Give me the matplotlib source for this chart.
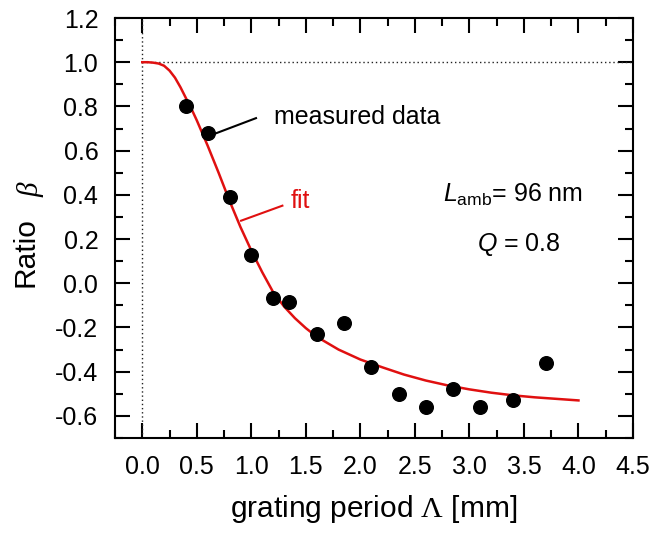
import matplotlib.pyplot as plt
from matplotlib.ticker import MultipleLocator, FormatStrFormatter

plt.rcParams['font.family'] = ['Liberation Sans', 'DejaVu Sans']
plt.rcParams['axes.unicode_minus'] = False
plt.rcParams['mathtext.fontset'] = 'custom'
plt.rcParams['mathtext.rm'] = 'Liberation Sans'
plt.rcParams['mathtext.it'] = 'Liberation Sans:italic'
plt.rcParams['mathtext.sf'] = 'Liberation Serif'

# measured ratio vs grating period
period = [0.4, 0.6, 0.8, 1.0, 1.2, 1.35, 1.6, 1.85, 2.1, 2.35, 2.6, 2.85, 3.1, 3.4, 3.7]
ratio = [0.80, 0.68, 0.39, 0.13, -0.065, -0.085, -0.23, -0.18, -0.38, -0.50,
         -0.56, -0.48, -0.56, -0.53, -0.36]

# fitted curve
fit_x = [0.0, 0.05, 0.1, 0.15, 0.2, 0.25, 0.3, 0.35, 0.4, 0.45, 0.5, 0.6, 0.7, 0.8,
         0.9, 1.0, 1.1, 1.2, 1.3, 1.4, 1.5, 1.6, 1.8, 2.0, 2.2, 2.4, 2.6, 2.8, 3.0,
         3.2, 3.4, 3.6, 3.8, 4.0]
fit_y = [1.0, 1.0, 0.998, 0.994, 0.984, 0.962, 0.93, 0.887, 0.838, 0.79, 0.737,
         0.622, 0.50, 0.373, 0.255, 0.148, 0.05, -0.04, -0.105, -0.158, -0.203,
         -0.242, -0.30, -0.345, -0.38, -0.413, -0.44, -0.462, -0.48, -0.495,
         -0.507, -0.516, -0.523, -0.53]

fig = plt.figure(figsize=(6.52, 5.34), dpi=100)
ax = fig.add_axes([115 / 652, 1 - 438 / 534, (633 - 115) / 652, (438 - 18) / 534])

ax.axhline(1.0, xmin=0.25 / 4.75, color='#222222', lw=1, ls=(0, (1, 2)))
ax.axvline(0.0, color='#222222', lw=1, ls=(0, (1, 2)))

ax.plot(fit_x, fit_y, color='#e01010', lw=1.8, zorder=3)
ax.plot(period, ratio, 'o', color='black', ms=9.8, zorder=4)

ax.set_xlim(-0.25, 4.5)
ax.set_ylim(-0.7, 1.2)
ax.xaxis.set_major_locator(MultipleLocator(0.5))
ax.xaxis.set_minor_locator(MultipleLocator(0.25))
ax.yaxis.set_major_locator(MultipleLocator(0.2))
ax.yaxis.set_minor_locator(MultipleLocator(0.1))
ax.xaxis.set_major_formatter(FormatStrFormatter('%.1f'))
ax.yaxis.set_major_formatter(FormatStrFormatter('%.1f'))

ax.tick_params(which='both', direction='in', top=True, right=True, width=1.5,
               labelsize=18, pad=12)
ax.tick_params(which='major', length=11)
ax.tick_params(which='minor', length=6)
for sp in ax.spines.values():
    sp.set_linewidth(1.5)

ax.set_xlabel(r'grating period $\mathsf{\Lambda}$ [mm]', fontsize=21.5, labelpad=10)
fig.text(26 / 652, 1 - 252 / 534, 'Ratio', rotation=90, fontsize=21.5,
         ha='center', va='center')
fig.text(31 / 652, 1 - 190 / 534, 'β', rotation=90, fontsize=21,
         family='Liberation Serif', style='italic', ha='center', va='center')

# annotations
ax.plot([0.679, 1.043], [0.679, 0.747], color='black', lw=1.5)
ax.text(1.21, 0.72, 'measured data', fontsize=18, va='baseline')
ax.plot([0.906, 1.285], [0.283, 0.351], color='#e01010', lw=1.5)
ax.text(1.364, 0.342, 'fit', fontsize=18, color='#e01010', va='baseline')
ax.text(2.755, 0.37, r'$L_{\mathrm{amb}}$= 96 nm', fontsize=18, va='baseline')
ax.text(3.07, 0.145, r'$Q$ = 0.8', fontsize=18, va='baseline')

fig.savefig('out.png', dpi=100)
